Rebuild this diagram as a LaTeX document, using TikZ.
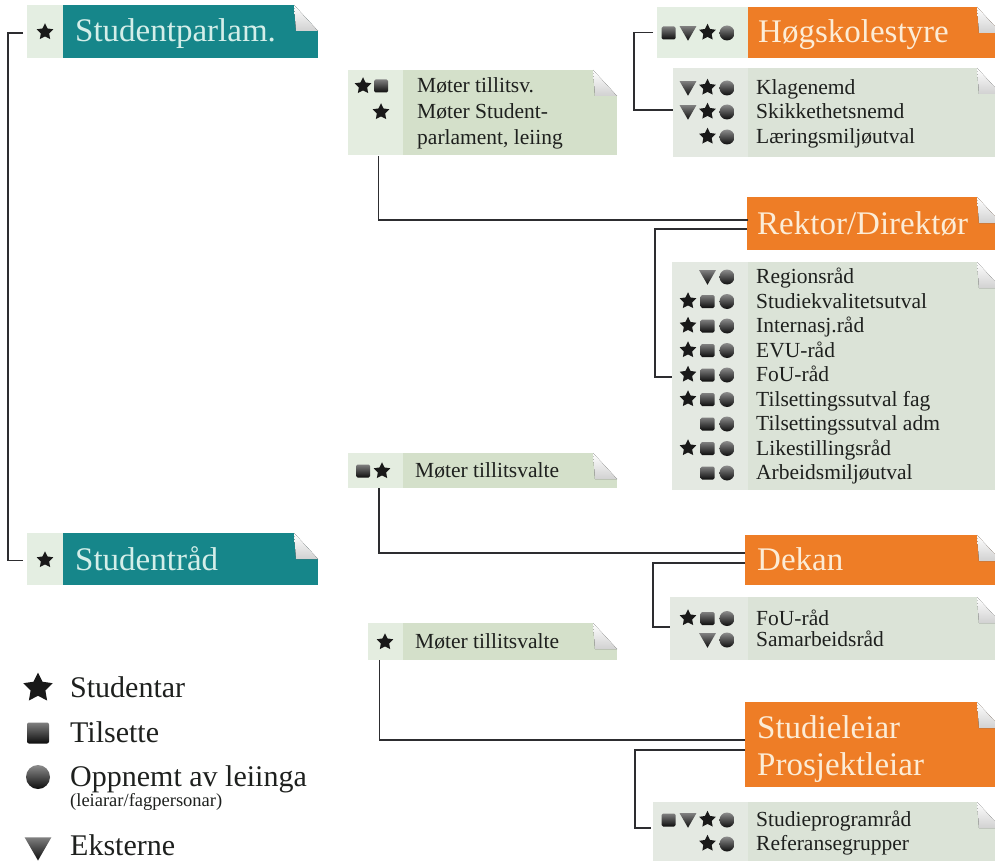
\documentclass[tikz,border=0pt]{standalone}
\usepackage{fontspec}
\setmainfont{Liberation Serif}
\usetikzlibrary{shapes.geometric}
\definecolor{tealc}{RGB}{22,134,138}
\definecolor{tealtxt}{RGB}{212,238,233}
\definecolor{orangec}{RGB}{238,125,38}
\definecolor{orangetxt}{RGB}{252,236,214}
\definecolor{hdricon}{RGB}{228,238,226}
\definecolor{listicon}{RGB}{228,233,226}
\definecolor{listbg}{RGB}{219,227,215}
\definecolor{moticon}{RGB}{228,237,224}
\definecolor{motbg}{RGB}{212,224,202}
\definecolor{txtc}{RGB}{30,32,30}
\definecolor{linec}{RGB}{45,45,48}
\newcount\icn
\newcommand\ic[3]{\global\advance\icn by 1\relax\node[#1] (ic\the\icn) at (#2,#3) {};}
\newcommand\bx[6]{\node[boxshape, fill=#2, minimum width={#5-#3}, minimum height={#6-#4}] (#1) at (#3,#4) {};}
\newcommand\foldit[1]{%
  \fill[white] ([xshift=-24]#1.north east) -- ([xshift=1,yshift=1]#1.north east) -- ([yshift=-26]#1.north east) -- cycle;
  \fill[top color=white, bottom color=black!18] ([xshift=-24]#1.north east) -- ([xshift=-22,yshift=-26]#1.north east) -- ([yshift=-26]#1.north east) -- cycle;}
\begin{document}
\begin{tikzpicture}[x=1pt,y=-1pt,
  conn/.style={draw=linec, line width=1.5},
  boxshape/.style={anchor=north west, inner sep=0pt, outer sep=0pt, draw=none, rectangle},
  istar/.style={star, star points=5, star point ratio=2.0, fill=black!90, inner sep=0pt, minimum size=17.5},
  isq/.style={rectangle, rounded corners=1.5, top color=black!50, bottom color=black!95, inner sep=0pt, minimum width=14, minimum height=13},
  icirc/.style={circle, top color=black!45, bottom color=black!95, inner sep=0pt, minimum size=15},
  itri/.style={regular polygon, regular polygon sides=3, shape border rotate=180, top color=black!50, bottom color=black!95, inner sep=0pt, minimum size=19.5},
  hdrtxt/.style={anchor=base west, inner sep=0pt, font=\fontsize{33}{36}\selectfont},
  listtxt/.style={anchor=base west, inner sep=0pt, font=\fontsize{21.5}{23}\selectfont, text=txtc},
  legtxt/.style={anchor=base west, inner sep=0pt, font=\fontsize{30}{32}\selectfont, text=txtc},
  legsmall/.style={anchor=base west, inner sep=0pt, font=\fontsize{18.5}{20}\selectfont, text=txtc}]
\clip (0,0) rectangle (995,861);
\fill[white] (0,0) rectangle (995,861);

% ---------- Studentparlam. / Studentråd ----------
\bx{spi}{hdricon}{27}{5}{63}{58}
\bx{sp}{tealc}{63}{5}{318}{58}
\foldit{sp}
\ic{istar}{45}{32}
\node[hdrtxt, text=tealtxt] (spt) at (75,42) {Studentparlam.};

\bx{sri}{hdricon}{27}{533}{63}{585}
\bx{sr}{tealc}{63}{533}{318}{585}
\foldit{sr}
\ic{istar}{45}{560}
\node[hdrtxt, text=tealtxt] (srt) at (75,570) {Studentråd};

\draw[conn] ([xshift=-4,yshift=-1.5]spi.west) -- ++(-15,0) |- ([xshift=-4,yshift=-1.5]sri.west);

% ---------- Møter tillitsv. ----------
\bx{m1i}{moticon}{348}{70}{403}{155}
\bx{m1b}{motbg}{403}{70}{617}{155}
\foldit{m1b}
\ic{istar}{363}{86}
\ic{isq}{381}{86}
\ic{istar}{381}{112}
\node[listtxt] (m1t1) at (417,92.5) {Møter tillitsv.};
\node[listtxt] (m1t2) at (417,118.5) {Møter Student-};
\node[listtxt] (m1t3) at (417,144.5) {parlament, leiing};

% ---------- Høgskolestyre ----------
\bx{hsi}{hdricon}{657}{7}{748}{58}
\bx{hs}{orangec}{748}{7}{1001}{58}
\foldit{hs}
\ic{isq}{668.5}{33}
\ic{itri}{688}{31}
\ic{istar}{707.5}{32.5}
\ic{icirc}{727}{33}
\node[hdrtxt, text=orangetxt] (hst) at (758,43) {Høgskolestyre};

\bx{hli}{listicon}{673}{68}{748}{157}
\bx{hlb}{listbg}{748}{68}{1001}{157}
\foldit{hlb}
\ic{itri}{688}{86}\ic{istar}{707.5}{87.5}\ic{icirc}{727}{88}
\ic{itri}{688}{110}\ic{istar}{707.5}{111.5}\ic{icirc}{727}{112}
\ic{istar}{707.5}{136.5}\ic{icirc}{727}{137}
\node[listtxt] (hl1) at (756,94.5) {Klagenemd};
\node[listtxt] (hl2) at (756,118.5) {Skikkethetsnemd};
\node[listtxt] (hl3) at (756,143.5) {Læringsmiljøutval};

\draw[conn] ([xshift=-4]hsi.west) -- ++(-19,0) |- ([yshift=2.5]hli.west);

% ---------- Rektor/Direktør ----------
\bx{rk}{orangec}{747}{197}{1001}{250}
\foldit{rk}
\node[hdrtxt, text=orangetxt] (rkt) at (757,234) {Rektor/Direktør};
\draw[conn] ([xshift=3,yshift=-1]m1i.south) -- ++(0,64) -| ([yshift=4.5]rk.west);

\bx{rli}{listicon}{672}{262}{748}{490}
\bx{rlb}{listbg}{748}{262}{1001}{490}
\foldit{rlb}
\ic{itri}{707.5}{275}\ic{icirc}{727}{277}
\ic{istar}{688}{301}\ic{isq}{707.5}{301.5}\ic{icirc}{727}{301.5}
\ic{istar}{688}{325.5}\ic{isq}{707.5}{326}\ic{icirc}{727}{326}
\ic{istar}{688}{350}\ic{isq}{707.5}{350.5}\ic{icirc}{727}{350.5}
\ic{istar}{688}{374.5}\ic{isq}{707.5}{375}\ic{icirc}{727}{375}
\ic{istar}{688}{399}\ic{isq}{707.5}{399.5}\ic{icirc}{727}{399.5}
\ic{isq}{707.5}{424}\ic{icirc}{727}{424}
\ic{istar}{688}{448}\ic{isq}{707.5}{448.5}\ic{icirc}{727}{448.5}
\ic{isq}{707.5}{473}\ic{icirc}{727}{473}
\node[listtxt] (rl1) at (756,283.5) {Regionsråd};
\node[listtxt] (rl2) at (756,308) {Studiekvalitetsutval};
\node[listtxt] (rl3) at (756,332.5) {Internasj.råd};
\node[listtxt] (rl4) at (756,357) {EVU-råd};
\node[listtxt] (rl5) at (756,381.5) {FoU-råd};
\node[listtxt] (rl6) at (756,406) {Tilsettingssutval fag};
\node[listtxt] (rl7) at (756,430.5) {Tilsettingssutval adm};
\node[listtxt] (rl8) at (756,455) {Likestillingsråd};
\node[listtxt] (rl9) at (756,479.5) {Arbeidsmiljøutval};

\draw[conn] ([yshift=-5.5]rk.west) -- ++(-92,0) |- ([yshift=-1]rli.west);

% ---------- Møter tillitsvalte (1) ----------
\bx{m2i}{moticon}{348}{453}{403}{488}
\bx{m2b}{motbg}{403}{453}{617}{488}
\foldit{m2b}
\ic{isq}{363}{471}
\ic{istar}{382}{471}
\node[listtxt] (m2t) at (415,477.5) {Møter tillitsvalte};

% ---------- Dekan ----------
\bx{dk}{orangec}{745}{535}{1001}{585}
\foldit{dk}
\node[hdrtxt, text=orangetxt] (dkt) at (757,570) {Dekan};
\draw[conn] ([xshift=3.5]m2i.south) -- ++(0,65) -- ([yshift=7]dk.west);

\bx{dli}{listicon}{670}{597}{748}{660}
\bx{dlb}{listbg}{748}{597}{1001}{660}
\foldit{dlb}
\ic{istar}{688}{618}\ic{isq}{707.5}{618.5}\ic{icirc}{727}{618.5}
\ic{itri}{707.5}{638}\ic{icirc}{727}{640}
\node[listtxt] (dl1) at (756,625) {FoU-råd};
\node[listtxt] (dl2) at (756,646.5) {Samarbeidsråd};
\draw[conn] ([yshift=-3]dk.west) -- ++(-92,0) |- ([yshift=1.5]dli.west);

% ---------- Møter tillitsvalte (2) ----------
\bx{m3i}{moticon}{368}{623}{403}{660}
\bx{m3b}{motbg}{403}{623}{617}{660}
\foldit{m3b}
\ic{istar}{385}{642}
\node[listtxt] (m3t) at (415,648.5) {Møter tillitsvalte};

% ---------- Studieleiar / Prosjektleiar ----------
\bx{sl}{orangec}{745}{702}{1001}{787}
\foldit{sl}
\node[hdrtxt, text=orangetxt] (slt1) at (757,738) {Studieleiar};
\node[hdrtxt, text=orangetxt] (slt2) at (757,775) {Prosjektleiar};
\draw[conn] ([xshift=11.5]m3i.south west) -- ++(0,80) -- ([yshift=4.5]sl.west);

\bx{sli}{listicon}{653}{802}{748}{870}
\bx{slb}{listbg}{748}{802}{1001}{870}
\foldit{slb}
\ic{isq}{668.5}{820}\ic{itri}{688}{818}\ic{istar}{707.5}{819.5}\ic{icirc}{727}{820}
\ic{istar}{707.5}{843.5}\ic{icirc}{727}{844}
\node[listtxt] (sl1) at (756,826.5) {Studieprogramråd};
\node[listtxt] (sl2) at (756,850.5) {Referansegrupper};
\draw[conn] ([yshift=-5.5]sl.west) -- ++(-110,0) |- ([xshift=-2,yshift=8]sli.west);

% ---------- Legend ----------
\ic{istar, minimum size=31}{38}{688}
\ic{isq, minimum width=22, minimum height=21, rounded corners=2}{38}{733}
\ic{icirc, minimum size=24}{38}{777}
\ic{itri, minimum size=31}{38}{845}
\node[legtxt] (lg1) at (70,697) {Studentar};
\node[legtxt] (lg2) at (70,742) {Tilsette};
\node[legtxt] (lg3) at (70,786) {Oppnemt av leiinga};
\node[legsmall] (lg4) at (70,806) {(leiarar/fagpersonar)};
\node[legtxt] (lg5) at (70,855) {Eksterne};
\end{tikzpicture}
\end{document}
